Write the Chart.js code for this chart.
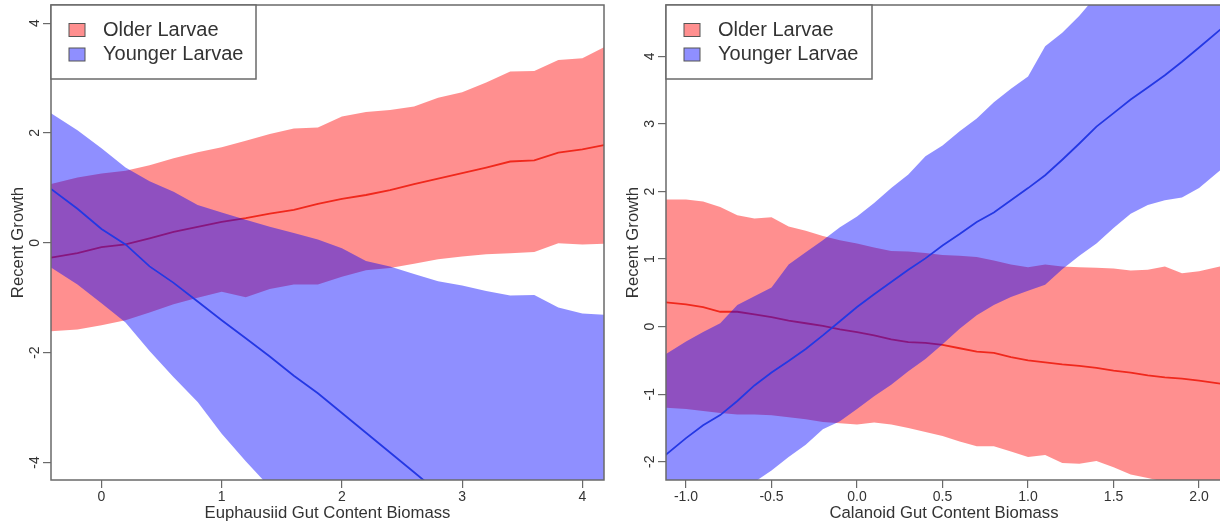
<!DOCTYPE html>
<html>
<head>
<meta charset="utf-8">
<script src="https://cdn.jsdelivr.net/npm/chart.js@4.4.1/dist/chart.umd.min.js"></script>
<style>
  html, body { margin: 0; padding: 0; background: #fff; overflow: hidden; }
  #wrap { position: relative; width: 1220px; height: 529px; overflow: hidden; }
  .panel { position: absolute; top: 0; }
  #left { left: 0; }
  #right { left: 610px; }
</style>
</head>
<body>
<div id="wrap">
  <div class="panel" id="left"><canvas id="euphChart" width="610" height="529"></canvas></div>
  <div class="panel" id="right"><canvas id="calChart" width="614" height="529"></canvas></div>
</div>
<script>
// Euphausiid panel: predicted recent growth with confidence band
const euphX = [-0.42, -0.2, 0, 0.2, 0.4, 0.6, 0.8, 1.0, 1.2, 1.4, 1.6, 1.8, 2.0, 2.2, 2.4, 2.6, 2.8, 3.0, 3.2, 3.4, 3.6, 3.8, 4.0, 4.18];
const euphOlderMean  = [-0.27, -0.19, -0.08, -0.03, 0.08, 0.2, 0.29, 0.38, 0.45, 0.53, 0.6, 0.71, 0.8, 0.87, 0.96, 1.07, 1.17, 1.27, 1.37, 1.48, 1.5, 1.64, 1.7, 1.78];
const euphOlderUpper = [1.07, 1.19, 1.26, 1.31, 1.41, 1.54, 1.65, 1.74, 1.86, 1.98, 2.08, 2.1, 2.3, 2.38, 2.42, 2.48, 2.64, 2.74, 2.92, 3.12, 3.13, 3.33, 3.36, 3.56];
const euphOlderLower = [-1.61, -1.58, -1.5, -1.41, -1.27, -1.12, -1.0, -0.89, -0.99, -0.84, -0.76, -0.76, -0.62, -0.5, -0.46, -0.38, -0.3, -0.25, -0.21, -0.19, -0.17, -0.01, -0.03, -0.02];
const euphYoungerMean  = [0.98, 0.62, 0.25, -0.03, -0.43, -0.73, -1.07, -1.41, -1.74, -2.07, -2.42, -2.74, -3.1, -3.46, -3.82, -4.18, -4.54, -4.9, null, null, null, null, null, null];
const euphYoungerUpper = [2.36, 2.05, 1.72, 1.37, 1.12, 0.93, 0.69, 0.55, 0.42, 0.29, 0.18, 0.06, -0.1, -0.33, -0.43, -0.57, -0.7, -0.78, -0.88, -0.96, -0.95, -1.18, -1.29, -1.31];
const euphYoungerLower = [-0.45, -0.76, -1.1, -1.45, -1.97, -2.45, -2.9, -3.48, -3.98, -4.45, -4.9, -5.3, -5.7, -6.1, -6.5, -6.9, -7.3, -7.7, -8.1, -8.5, -8.9, -9.3, -9.7, -10.0];

// Calanoid panel
const calX = [-1.12, -1.0, -0.9, -0.8, -0.7, -0.6, -0.5, -0.4, -0.3, -0.2, -0.1, 0.0, 0.1, 0.2, 0.3, 0.4, 0.5, 0.6, 0.7, 0.8, 0.9, 1.0, 1.1, 1.2, 1.3, 1.4, 1.5, 1.6, 1.7, 1.8, 1.9, 2.0, 2.14];
const calOlderMean  = [0.36, 0.33, 0.29, 0.22, 0.22, 0.18, 0.14, 0.09, 0.05, 0.01, -0.04, -0.08, -0.13, -0.19, -0.23, -0.24, -0.27, -0.32, -0.37, -0.39, -0.45, -0.5, -0.53, -0.56, -0.58, -0.61, -0.65, -0.68, -0.72, -0.75, -0.77, -0.8, -0.85];
const calOlderUpper = [1.88, 1.88, 1.85, 1.77, 1.65, 1.6, 1.62, 1.48, 1.42, 1.34, 1.28, 1.23, 1.17, 1.12, 1.11, 1.09, 1.06, 1.05, 1.03, 0.98, 0.92, 0.88, 0.92, 0.89, 0.88, 0.87, 0.86, 0.83, 0.84, 0.89, 0.79, 0.82, 0.9];
const calOlderLower = [-1.2, -1.22, -1.25, -1.28, -1.3, -1.3, -1.31, -1.34, -1.37, -1.41, -1.43, -1.45, -1.42, -1.45, -1.5, -1.56, -1.62, -1.7, -1.77, -1.77, -1.85, -1.93, -1.9, -2.02, -2.03, -1.99, -2.08, -2.19, -2.24, -2.3, -2.36, -2.42, -2.5];
const calYoungerMean  = [-1.9, -1.65, -1.46, -1.31, -1.1, -0.87, -0.68, -0.51, -0.33, -0.13, 0.08, 0.29, 0.48, 0.66, 0.84, 1.01, 1.2, 1.37, 1.55, 1.69, 1.87, 2.05, 2.24, 2.47, 2.71, 2.96, 3.16, 3.36, 3.54, 3.72, 3.92, 4.13, 4.43];
const calYoungerUpper = [-0.41, -0.22, -0.08, 0.05, 0.32, 0.45, 0.58, 0.92, 1.1, 1.28, 1.47, 1.63, 1.83, 2.05, 2.25, 2.52, 2.68, 2.89, 3.08, 3.32, 3.52, 3.7, 4.15, 4.35, 4.6, 4.9, 5.1, 5.3, 5.5, 5.7, 5.9, 6.1, 6.4];
const calYoungerLower = [-3.2, -3.0, -2.85, -2.68, -2.5, -2.3, -2.13, -1.93, -1.75, -1.52, -1.4, -1.22, -1.03, -0.86, -0.66, -0.48, -0.26, -0.03, 0.17, 0.32, 0.44, 0.53, 0.62, 0.85, 1.05, 1.23, 1.46, 1.67, 1.8, 1.87, 1.91, 2.05, 2.35];

const groupLabels = ['Older Larvae', 'Younger Larvae'];

const RED_FILL = 'rgba(255, 0, 0, 0.44)';
const BLUE_FILL = 'rgba(0, 0, 255, 0.44)';
const RED_LINE = '#f0281c';
const BLUE_LINE = '#2438e4';
const FRAME = '#6a6a6a';
const TEXT = '#333333';
const FONT = '"Liberation Sans", Arial, sans-serif';
const NONE = 'rgba(0,0,0,0)';

const pts = (xs, ys) => xs.map((x, i) => ({ x, y: ys[i] }));

// R-style box, rotated y labels, axis titles and boxed legend
function makeFrame(o) {
    return {
        id: 'rFrame',
        afterDraw(chart) {
            const { ctx, chartArea: a, scales: { x, y } } = chart;
            ctx.save();

            ctx.strokeStyle = FRAME;
            ctx.lineWidth = 1.5;
            ctx.strokeRect(a.left, a.top, a.right - a.left, a.bottom - a.top);

            ctx.fillStyle = TEXT;
            ctx.textAlign = 'center';
            ctx.textBaseline = 'middle';
            ctx.font = '14px ' + FONT;
            x.ticks.forEach(t => {
                ctx.fillText(o.xFormat(t.value), x.getPixelForValue(t.value), a.bottom + 17);
            });
            y.ticks.forEach(t => {
                ctx.save();
                ctx.translate(a.left - 16, y.getPixelForValue(t.value));
                ctx.rotate(-Math.PI / 2);
                ctx.fillText(String(t.value), 0, 0);
                ctx.restore();
            });

            ctx.font = '16.7px ' + FONT;
            ctx.fillText(o.xTitle, (a.left + a.right) / 2, a.bottom + 33);
            ctx.save();
            ctx.translate(a.left - 33, (a.top + a.bottom) / 2);
            ctx.rotate(-Math.PI / 2);
            ctx.fillText(o.yTitle, 0, 0);
            ctx.restore();

            // legend
            const lw = o.legendWidth, lh = 74;
            ctx.fillStyle = '#fff';
            ctx.fillRect(a.left, a.top, lw, lh);
            ctx.strokeStyle = FRAME;
            ctx.strokeRect(a.left, a.top, lw, lh);
            const entries = chart.data.datasets.filter(d => d.label);
            ctx.font = '20px ' + FONT;
            ctx.textAlign = 'left';
            entries.forEach((d, i) => {
                const cy = a.top + 25 + i * 24.5;
                ctx.fillStyle = d.backgroundColor;
                ctx.fillRect(a.left + 18, cy - 6.5, 16, 13);
                ctx.strokeStyle = '#555';
                ctx.lineWidth = 1;
                ctx.strokeRect(a.left + 18, cy - 6.5, 16, 13);
                ctx.fillStyle = TEXT;
                ctx.fillText(d.label, a.left + 52, cy);
            });
            ctx.restore();
        }
    };
}

function bandSets(xs, older, younger) {
    const base = { pointRadius: 0, tension: 0, borderColor: NONE, borderWidth: 0 };
    return [
        { ...base, label: groupLabels[0], data: pts(xs, older.upper), fill: '+1', backgroundColor: RED_FILL, order: 6 },
        { ...base, data: pts(xs, older.lower), fill: false, order: 5 },
        { pointRadius: 0, data: pts(xs, older.mean), borderColor: RED_LINE, borderWidth: 1.8, fill: false, order: 4 },
        { ...base, label: groupLabels[1], data: pts(xs, younger.upper), fill: '+1', backgroundColor: BLUE_FILL, order: 3 },
        { ...base, data: pts(xs, younger.lower), fill: false, order: 2 },
        { pointRadius: 0, data: pts(xs, younger.mean), borderColor: BLUE_LINE, borderWidth: 1.8, fill: false, order: 1 }
    ];
}

function makePanel(id, datasets, cfg) {
    const tickGrid = { drawOnChartArea: false, drawTicks: true, tickLength: 8, color: FRAME, lineWidth: 1.2 };
    return new Chart(document.getElementById(id), {
        type: 'line',
        data: { datasets },
        options: {
            responsive: false,
            animation: false,
            layout: { padding: { left: 0, right: cfg.padRight, top: 5, bottom: 0 } },
            plugins: {
                legend: { display: false },
                tooltip: { enabled: false }
            },
            scales: {
                x: {
                    type: 'linear', min: cfg.xMin, max: cfg.xMax,
                    ticks: { display: false, stepSize: cfg.xStep, includeBounds: false },
                    grid: tickGrid, border: { display: false },
                    afterFit: s => { s.height = 49; }
                },
                y: {
                    type: 'linear', min: cfg.yMin, max: cfg.yMax,
                    ticks: { display: false, stepSize: cfg.yStep, includeBounds: false },
                    grid: tickGrid, border: { display: false },
                    afterFit: s => { s.width = cfg.yWidth; }
                }
            }
        },
        plugins: [makeFrame(cfg)]
    });
}

makePanel('euphChart',
    bandSets(euphX,
        { mean: euphOlderMean, upper: euphOlderUpper, lower: euphOlderLower },
        { mean: euphYoungerMean, upper: euphYoungerUpper, lower: euphYoungerLower }),
    {
        xMin: -0.42, xMax: 4.18, xStep: 1, yMin: -4.32, yMax: 4.33, yStep: 2,
        yWidth: 51, padRight: 6, legendWidth: 205,
        xTitle: 'Euphausiid Gut Content Biomass', yTitle: 'Recent Growth',
        xFormat: v => String(v)
    });

makePanel('calChart',
    bandSets(calX,
        { mean: calOlderMean, upper: calOlderUpper, lower: calOlderLower },
        { mean: calYoungerMean, upper: calYoungerUpper, lower: calYoungerLower }),
    {
        xMin: -1.117, xMax: 2.134, xStep: 0.5, yMin: -2.27, yMax: 4.76, yStep: 1,
        yWidth: 56, padRight: 2, legendWidth: 206,
        xTitle: 'Calanoid Gut Content Biomass', yTitle: 'Recent Growth',
        xFormat: v => v.toFixed(1)
    });
</script>
</body>
</html>
